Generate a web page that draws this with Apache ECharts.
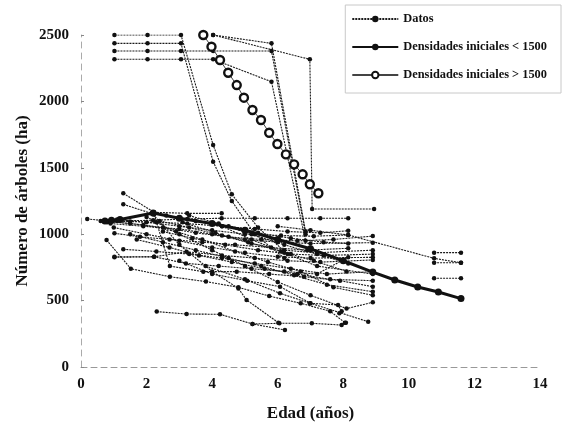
<!DOCTYPE html>
<html>
<head>
<meta charset="utf-8">
<script src="https://cdn.jsdelivr.net/npm/echarts@6/dist/echarts.min.js"></script>
<style>
  html, body { margin: 0; padding: 0; background: #fff; }
  #chart { width: 563px; height: 427px; }
</style>
</head>
<body>
<div id="chart"></div>
<script>
// ejes
var xTicks = [0, 2, 4, 6, 8, 10, 12, 14];
var yTicks = [0, 500, 1000, 1500, 2000, 2500];

// Datos: cada parcela es una serie de pares [edad, árboles/ha]
var datos = [
  [[1.02,2500],[2.03,2500],[3.05,2500],[4.03,1672],[4.6,1300],[5.4,1050],[6.3,850]],
  [[1.02,2437],[2.03,2437],[3.05,2437],[4.03,1546],[4.6,1250],[5.3,1000],[6.2,820]],
  [[1.02,2380],[2.03,2380],[3.05,2380],[4.03,2380],[5.81,2380],[6.85,1000]],
  [[1.02,2317],[2.03,2317],[3.05,2317],[4.03,2317],[5.81,2148],[6.85,950]],
  [[4.03,2500],[5.81,2437],[6.85,1020]],
  [[4.03,2500],[6.98,2317],[7.05,1190],[8.94,1190]],
  [[0.19,1115],[0.78,1100],[1.5,1095],[2.3,1090],[3.24,1080],[4.3,1060],[5.3,1040],[6.3,1020],[7.3,1010],[8.15,1026]],
  [[0.8,1090],[1.1,1100],[2.2,1105],[3.24,1115],[4.29,1120],[5.3,1120],[6.3,1120],[7.3,1120],[8.15,1120]],
  [[1.29,1308],[2.23,1165],[3.24,1157],[4.29,1157]],
  [[1.29,1225],[2.23,1150],[2.71,760],[3.73,718],[4.75,718],[5.74,700],[6.8,680],[7.9,650],[8.9,605]],
  [[0.78,956],[1.52,740],[2.71,680],[3.81,643],[4.8,600],[5.74,534],[6.7,480],[7.6,420],[8.05,334]],
  [[1.02,830],[2.23,830],[3.22,868],[4.3,840],[5.3,820],[6.3,800],[7.3,790],[8.9,806]],
  [[2.31,417],[3.22,399],[4.24,397],[5.23,324],[6.22,279]],
  [[5.23,324],[6.05,329],[7.04,329],[7.95,316],[8.08,334]],
  [[1.02,1007],[1.8,980],[2.7,960],[3.7,940],[4.7,920],[5.8,900],[6.9,880],[8.15,894]],
  [[1.29,886],[2.3,870],[3.3,850],[4.3,820],[5.3,780],[6.4,740],[7.5,700],[8.9,718]],
  [[0.6,1100],[1.5,1080],[2.5,1050],[3.5,1010],[4.5,980],[5.5,960],[6.6,950],[7.7,960],[8.9,986]],
  [[0.9,1080],[1.9,1060],[3.0,1040],[4.0,1000],[5.0,960],[6.0,940],[7.0,930],[8.9,936]],
  [[1.0,1050],[2.0,1000],[3.0,950],[4.0,900],[5.0,860],[6.0,830],[7.0,820],[8.9,826]],
  [[1.5,1000],[2.5,940],[3.5,880],[4.5,820],[5.5,760],[6.5,690],[7.5,620],[8.9,567]],
  [[2.0,1130],[3.0,1000],[4.0,880],[5.0,760],[6.0,640],[7.0,540],[8.1,440],[8.9,487]],
  [[2.2,1150],[3.0,920],[4.0,720],[4.8,592],[5.05,505],[6.02,334]],
  [[3.0,800],[4.0,700],[5.07,650],[6.07,605],[7.0,480],[8.76,341]],
  [[3.8,760],[5.0,660],[6.07,555],[6.98,480],[7.84,467],[7.95,420],[7.88,404]],
  [[1.02,826],[2.23,830],[3.2,780],[4.2,760],[5.2,740],[6.2,720],[7.2,700],[8.15,827]],
  [[1.1,1110],[2.0,1090],[3.0,1060],[4.0,1030],[5.0,1000],[6.1,990],[7.1,985],[8.15,994]],
  [[2.4,1100],[3.3,1050],[4.3,990],[5.2,930],[6.2,880],[7.2,860],[8.9,880]],
  [[3.1,1090],[4.1,1010],[5.1,940],[6.1,870],[7.1,800],[8.1,720]],
  [[4.3,1060],[5.2,960],[6.2,860],[7.2,760],[8.9,700]],
  [[1.7,960],[2.7,900],[3.6,840],[4.6,790],[5.6,740],[6.6,700],[7.6,660],[8.9,650]],
  [[0.9,1095],[1.9,1070],[2.9,1020],[3.7,960],[4.7,870],[5.7,790],[6.7,720],[7.7,600],[8.9,540]],
  [[2.6,1140],[3.5,1100],[4.5,1060],[5.4,1010],[6.4,970],[7.4,940],[8.15,930]],
  [[2.5,1020],[3.4,970],[4.4,920],[5.4,880],[6.4,850],[7.4,840],[8.9,850]],
  [[3.3,1140],[4.2,1080],[5.2,1000],[6.2,920],[7.2,850],[8.15,780]],
  [[6.0,1060],[7.0,1030],[8.15,994],[10.77,818],[11.59,785]],
  [[10.77,861],[11.59,861]],
  [[10.77,785],[11.59,785]],
  [[10.77,668],[11.59,668]]
];

// curvas de densidad
var menor1500 = [[0.73,1100],[0.93,1105],[1.19,1110],[2.2,1160],[3.0,1120],[4.0,1080],[5.0,1030],[6.0,960],[7.0,890],[8.0,800],[8.9,715],[9.57,655],[10.27,602],[10.9,565],[11.59,515]];
var mayor1500 = [[3.73,2500],[3.98,2412],[4.24,2312],[4.49,2216],[4.75,2123],[4.97,2028],[5.23,1935],[5.49,1860],[5.74,1764],[5.99,1679],[6.25,1601],[6.5,1526],[6.76,1451],[6.98,1376],[7.24,1308]];

var chart = echarts.init(document.getElementById('chart'), null, {renderer: 'canvas'});

var serif = 'Liberation Serif';
var series = [];

datos.forEach(function (d) {
  series.push({
    name: 'Datos',
    type: 'line',
    data: d,
    symbol: 'circle',
    symbolSize: 4.5,
    z: 2,
    itemStyle: {color: '#111'},
    lineStyle: {color: '#1a1a1a', width: 1.1, type: [2, 1]},
    emphasis: {disabled: true},
    animation: false
  });
});

series.push({
  name: 'Densidades iniciales < 1500',
  type: 'line',
  data: menor1500,
  symbol: 'circle',
  symbolSize: 7,
  z: 4,
  itemStyle: {color: '#111'},
  lineStyle: {color: '#111', width: 3},
  animation: false
});

series.push({
  name: 'Densidades iniciales > 1500',
  type: 'line',
  data: mayor1500,
  symbol: 'circle',
  symbolSize: 8,
  z: 5,
  itemStyle: {color: '#fff', borderColor: '#111', borderWidth: 2.4},
  lineStyle: {color: '#444', width: 1},
  animation: false
});

var option = {
  backgroundColor: '#fff',
  animation: false,
  grid: {left: 81, right: 23, top: 35, bottom: 60},
  legend: {
    data: ['Datos', 'Densidades iniciales < 1500', 'Densidades iniciales > 1500'],
    orient: 'vertical',
    right: 2,
    top: 5,
    itemWidth: 46,
    itemHeight: 8,
    itemGap: 16,
    padding: [8, 14, 12, 6],
    borderColor: '#c8c8c8',
    borderWidth: 1,
    textStyle: {fontFamily: serif, fontSize: 12.4, fontWeight: 'bold', color: '#111'}
  },
  xAxis: {
    type: 'value',
    min: 0,
    max: 14,
    interval: 2,
    name: 'Edad (años)',
    nameLocation: 'middle',
    nameGap: 38,
    nameMoveOverlap: false,
    nameTextStyle: {fontFamily: serif, fontSize: 17, fontWeight: 'bold', color: '#111'},
    axisLine: {show: true, lineStyle: {color: '#999', type: [6, 4], width: 1}},
    axisTick: {show: false},
    splitLine: {show: false},
    axisLabel: {fontFamily: serif, fontSize: 15, fontWeight: 'bold', color: '#111', margin: 10,
      formatter: function (v) { return xTicks.indexOf(v) >= 0 ? String(v) : ''; }}
  },
  yAxis: {
    type: 'value',
    min: 0,
    max: 2500,
    interval: 500,
    name: 'Número de árboles (ha)',
    nameLocation: 'middle',
    nameGap: 50,
    nameMoveOverlap: false,
    nameTextStyle: {fontFamily: serif, fontSize: 17, fontWeight: 'bold', color: '#111'},
    axisLine: {show: true, lineStyle: {color: '#aaa', type: [6, 5], width: 1}},
    axisTick: {show: true, inside: true, length: 3, lineStyle: {color: '#888'}},
    splitLine: {show: false},
    axisLabel: {fontFamily: serif, fontSize: 15, fontWeight: 'bold', color: '#111', margin: 12,
      formatter: function (v) { return yTicks.indexOf(v) >= 0 ? String(v) : ''; }}
  },
  series: series
};

chart.setOption(option);
</script>
</body>
</html>
